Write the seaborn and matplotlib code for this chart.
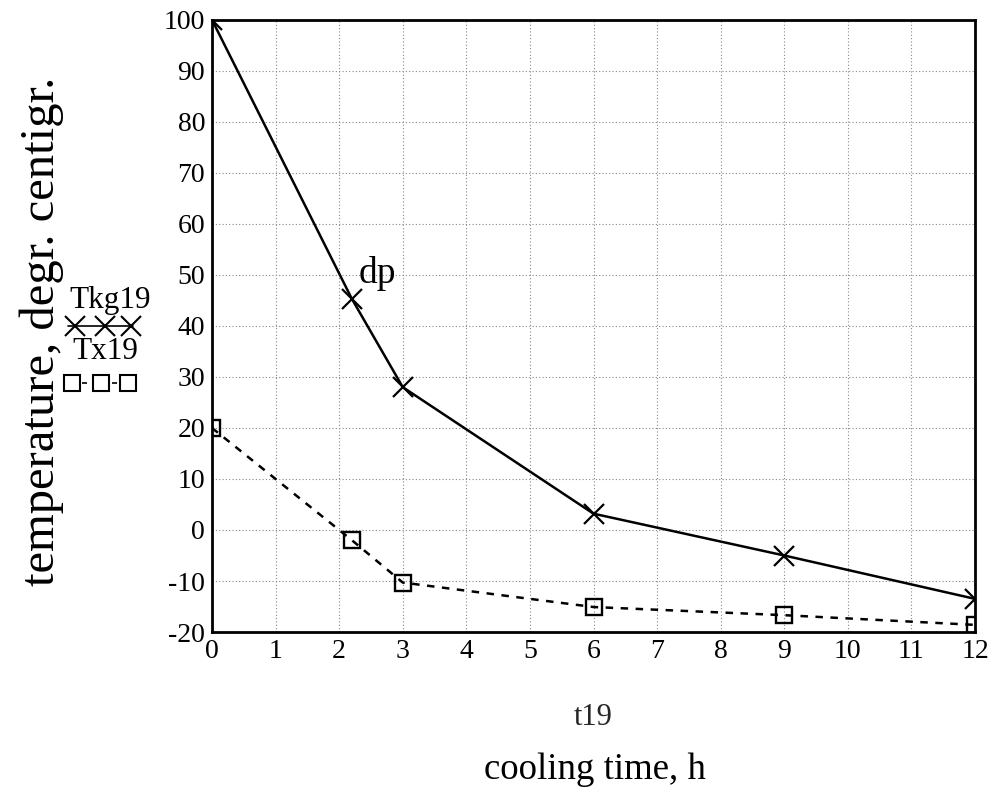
import matplotlib
matplotlib.use('Agg')
import matplotlib.pyplot as plt
from matplotlib.lines import Line2D
import seaborn as sns
import pandas as pd

# cooling times (h) and temperatures
t19 = [0, 2.2, 3, 6, 9, 12]
tkg19 = [100, 45.3, 28.0, 3.2, -5.0, -13.5]
tx19 = [20, -2.0, -10.3, -15.1, -16.7, -18.6]

x_ticks = list(range(0, 13))
y_ticks = list(range(-20, 101, 10))

df = pd.DataFrame({'t19': t19, 'Tkg19': tkg19, 'Tx19': tx19})

sns.set_style('white')
plt.rcParams['font.family'] = ['Liberation Serif', 'DejaVu Serif']
plt.rcParams['axes.unicode_minus'] = False
plt.rcParams['text.color'] = 'black'
plt.rcParams['xtick.color'] = 'black'
plt.rcParams['ytick.color'] = 'black'

fig = plt.figure(figsize=(10, 7.94), dpi=100)
ax = fig.add_axes([0.212, 0.204, 0.763, 0.771])

sns.lineplot(data=df, x='t19', y='Tkg19', ax=ax, color='black', lw=1.8,
             marker='x', markersize=15, markeredgewidth=1.6,
             markeredgecolor='black', zorder=3)
sns.lineplot(data=df, x='t19', y='Tx19', ax=ax, color='black', lw=1.8,
             linestyle=(0, (3, 3)), marker='s', markersize=11,
             markerfacecolor='none', markeredgecolor='black',
             markeredgewidth=1.7, zorder=3)

ax.set_xlim(0, 12)
ax.set_ylim(-20, 100)
ax.set_xticks(x_ticks)
ax.set_yticks(y_ticks)
ax.tick_params(axis='both', length=0, labelsize=20, pad=5)
ax.grid(True, color='#888888', linestyle=(0, (1, 2)), lw=0.8)
for s in ax.spines.values():
    s.set_color('black')
    s.set_linewidth(2)
ax.set_xlabel('t19', fontsize=22, labelpad=28)
ax.set_ylabel('')

fig.text(0.042, 0.583, 'temperature, degr. centigr.', rotation=90,
         ha='center', va='center', fontsize=35)
fig.text(0.595, 0.03, 'cooling time, h', ha='center', va='center', fontsize=26.5)

ax.text(2.3, 48.5, 'dp', fontsize=27)

# hand-drawn legend at left
fig.text(0.11, 0.622, 'Tkg19', ha='center', va='center', fontsize=22.5)
fig.lines.append(Line2D([0.068, 0.133], [0.59, 0.59], transform=fig.transFigure,
                        color='black', lw=1.2))
fig.lines.append(Line2D([0.075, 0.105, 0.131], [0.59, 0.59, 0.59], transform=fig.transFigure,
                        color='black', lw=0, marker='x', markersize=15, markeredgewidth=1.5))
fig.text(0.105, 0.557, 'Tx19', ha='center', va='center', fontsize=22.5)
fig.lines.append(Line2D([0.072, 0.131], [0.518, 0.518], transform=fig.transFigure,
                        color='black', lw=1.2, linestyle=(0, (3, 3))))
fig.lines.append(Line2D([0.072, 0.101, 0.128], [0.518, 0.518, 0.518], transform=fig.transFigure,
                        color='black', lw=0, marker='s', markersize=11,
                        markerfacecolor='white', markeredgewidth=1.5))

fig.savefig('out.png', dpi=100)
